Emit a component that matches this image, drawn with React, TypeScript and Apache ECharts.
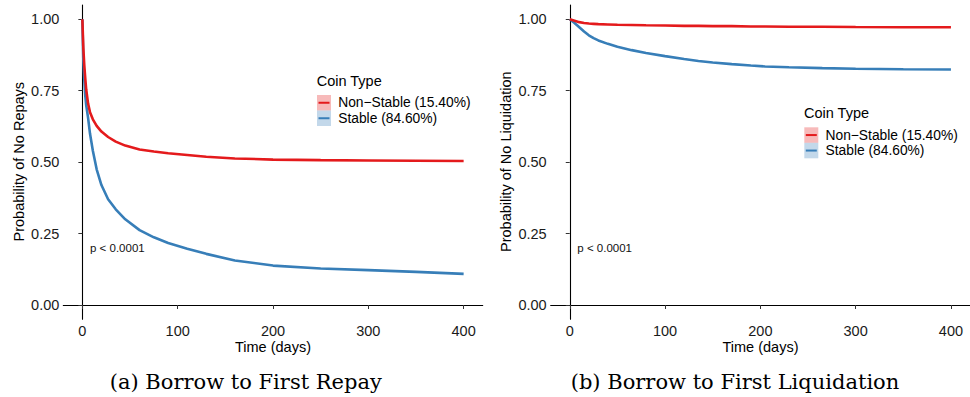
import React, { useEffect, useRef } from "react";
import * as echarts from "echarts";

// ---- data ----
const repayTime = [0, 1, 2, 3, 4, 6, 8, 11, 15, 20, 27, 35, 45, 60, 75, 90, 110, 130, 160, 200, 250, 300, 350, 400];
const repayNonStable = [1.0, 0.9, 0.84, 0.795, 0.755, 0.705, 0.675, 0.65, 0.627, 0.607, 0.588, 0.572, 0.558, 0.544, 0.537, 0.531, 0.525, 0.519, 0.513, 0.509, 0.507, 0.506, 0.505, 0.504];
const repayStable = [1.0, 0.857, 0.79, 0.735, 0.7, 0.655, 0.6, 0.54, 0.475, 0.42, 0.37, 0.335, 0.3, 0.262, 0.237, 0.217, 0.197, 0.179, 0.156, 0.138, 0.128, 0.122, 0.116, 0.109];

const liqTime = [0, 5, 10, 15, 20, 25, 30, 40, 50, 65, 80, 100, 120, 135, 150, 170, 190, 205, 230, 265, 300, 350, 400];
const liqNonStable = [1.0, 0.995, 0.99, 0.987, 0.985, 0.984, 0.983, 0.982, 0.981, 0.98, 0.979, 0.978, 0.977, 0.977, 0.976, 0.976, 0.975, 0.975, 0.974, 0.974, 0.973, 0.972, 0.972];
const liqStable = [1.0, 0.987, 0.972, 0.957, 0.944, 0.934, 0.926, 0.914, 0.904, 0.892, 0.882, 0.871, 0.861, 0.854, 0.849, 0.843, 0.838, 0.835, 0.832, 0.829, 0.827, 0.825, 0.824];

const xTicks = [0, 100, 200, 300, 400];
const yTicks = [0, 0.25, 0.5, 0.75, 1.0];
const groupNames = ["Non\u2212Stable (15.40%)", "Stable (84.60%)"];
const legendTitle = "Coin Type";
const pText = "p < 0.0001";
const yTitles = ["Probability of No Repays", "Probability of No Liquidation"];
const xTitle = "Time (days)";
const captions = ["(a) Borrow to First Repay", "(b) Borrow to First Liquidation"];

const RED = "#E41A1C";
const BLUE = "#377EB8";
const SANS = "Liberation Sans, Arial, sans-serif";
const SERIF = "DejaVu Serif, serif";

function zip(t: number[], v: number[]) {
  return t.map((x, i) => [x, v[i]]);
}

export default function App() {
  const ref = useRef<HTMLDivElement>(null);
  useEffect(() => {
    if (!ref.current) return;
    const chart = echarts.init(ref.current, null, { renderer: "svg" });

    const xAxis = (gi: number) => ({
      type: "value",
      gridIndex: gi,
      min: -20,
      max: 420,
      splitLine: { show: false },
      axisLine: { show: true, lineStyle: { color: "#000", width: 1.1 } },
      axisTick: { show: true, customValues: xTicks, length: 4, lineStyle: { color: "#333" } },
      axisLabel: { customValues: xTicks, fontSize: 14.5, color: "#1a1a1a", fontFamily: SANS, margin: 4 },
    });
    const yAxis = (gi: number) => ({
      type: "value",
      gridIndex: gi,
      min: -0.05,
      max: 1.05,
      splitLine: { show: false },
      axisLine: { show: true, lineStyle: { color: "#000", width: 1.1 } },
      axisTick: { show: true, customValues: yTicks, length: 4, lineStyle: { color: "#333" } },
      axisLabel: {
        customValues: yTicks,
        fontSize: 14.5,
        color: "#1a1a1a",
        fontFamily: SANS,
        margin: 4,
        formatter: (v: number) => v.toFixed(2),
      },
    });
    const line = (name: string, data: number[][], color: string, gi: number) => ({
      type: "line",
      name,
      xAxisIndex: gi,
      yAxisIndex: gi,
      data,
      showSymbol: false,
      symbol: "none",
      lineStyle: { color, width: 2.6 },
      z: color === RED ? 3 : 2,
    });

    const KH = 15.5; // legend key height / row spacing
    const legend = (x: number, y: number) => [
      {
        type: "text",
        x,
        y,
        style: { text: legendTitle, fontSize: 14.5, fontFamily: SANS, fill: "#000", verticalAlign: "middle" },
      },
      { type: "rect", shape: { x: x + 0.3, y: y + 14, width: 14, height: KH }, style: { fill: "rgba(228,26,28,0.3)" } },
      { type: "rect", shape: { x: x + 0.3, y: y + 14 + KH, width: 14, height: KH }, style: { fill: "rgba(55,126,184,0.3)" } },
      { type: "line", shape: { x1: x + 1.8, y1: y + 14 + KH / 2, x2: x + 12.8, y2: y + 14 + KH / 2 }, style: { stroke: RED, lineWidth: 2 } },
      { type: "line", shape: { x1: x + 1.8, y1: y + 14 + KH * 1.5, x2: x + 12.8, y2: y + 14 + KH * 1.5 }, style: { stroke: BLUE, lineWidth: 2 } },
      {
        type: "text",
        x: x + 21.5,
        y: y + 14 + KH / 2,
        style: { text: groupNames[0], fontSize: 13.8, fontFamily: SANS, fill: "#000", verticalAlign: "middle" },
      },
      {
        type: "text",
        x: x + 21.5,
        y: y + 14 + KH * 1.5,
        style: { text: groupNames[1], fontSize: 13.8, fontFamily: SANS, fill: "#000", verticalAlign: "middle" },
      },
    ];

    const txt = (text: string, x: number, y: number, size: number, font: string, extra: any = {}) => ({
      type: "text",
      x,
      y,
      ...extra,
      style: { text, fontSize: size, fontFamily: font, fill: "#000", align: "center", verticalAlign: "middle", ...(extra.style || {}) },
    });

    chart.setOption({
      animation: false,
      backgroundColor: "#fff",
      grid: [
        { left: 63.3, top: 5, width: 419.4, height: 314.3 },
        { left: 550.7, top: 5, width: 419.3, height: 314.3 },
      ],
      xAxis: [xAxis(0), xAxis(1)],
      yAxis: [yAxis(0), yAxis(1)],
      series: [
        line(groupNames[1], zip(repayTime, repayStable), BLUE, 0),
        line(groupNames[0], zip(repayTime, repayNonStable), RED, 0),
        line(groupNames[1], zip(liqTime, liqStable), BLUE, 1),
        line(groupNames[0], zip(liqTime, liqNonStable), RED, 1),
      ],
      graphic: [
        ...legend(316.7, 81),
        ...legend(804, 113.3),
        txt(yTitles[0], 19, 161.7, 14.5, SANS, { rotation: Math.PI / 2 }),
        txt(yTitles[1], 506, 161.7, 14.5, SANS, { rotation: Math.PI / 2 }),
        txt(xTitle, 273, 346.7, 14.5, SANS),
        txt(xTitle, 760.5, 346.7, 14.5, SANS),
        { type: "text", x: 90, y: 248.3, style: { text: pText, fontSize: 11.5, fontFamily: SANS, fill: "#111", verticalAlign: "middle" } },
        { type: "text", x: 577.3, y: 248.3, style: { text: pText, fontSize: 11.5, fontFamily: SANS, fill: "#111", verticalAlign: "middle" } },
        txt(captions[0], 245.8, 381.7, 21, SERIF),
        txt(captions[1], 735, 381.7, 21, SERIF),
      ],
    });
    return () => chart.dispose();
  }, []);
  return <div ref={ref} style={{ position: "absolute", left: 0, top: 0, width: 970, height: 397 }} />;
}
